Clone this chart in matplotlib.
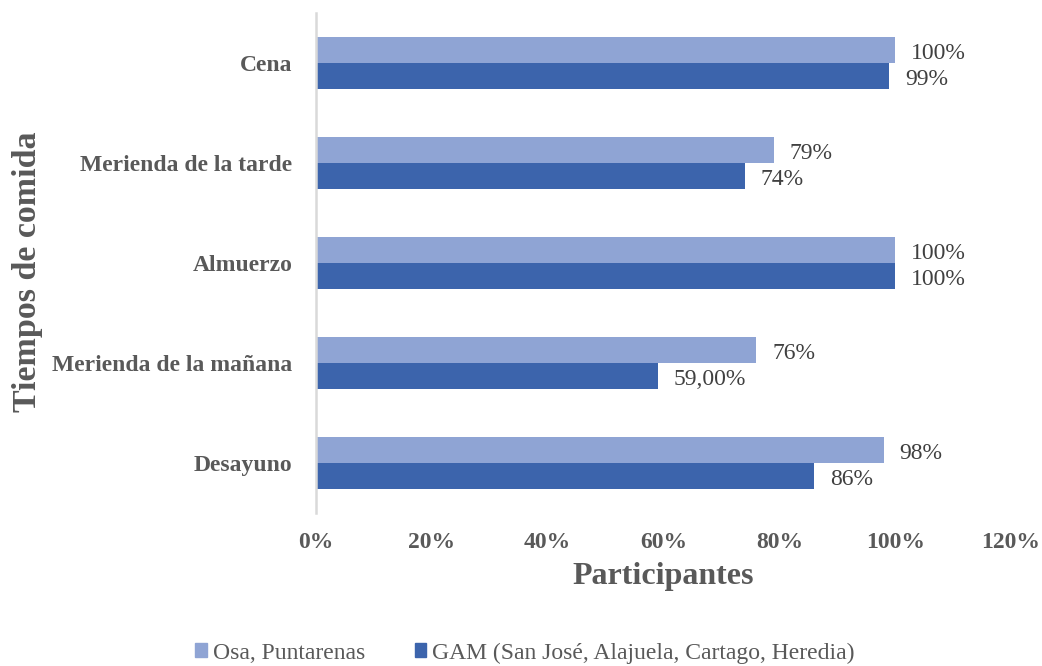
import matplotlib.pyplot as plt
from matplotlib.patches import Patch

plt.rcParams['font.family'] = ['Liberation Serif', 'DejaVu Serif']

categories = ["Desayuno", "Merienda de la mañana", "Almuerzo",
              "Merienda de la tarde", "Cena"]
osa = [98, 76, 100, 79, 100]
gam = [86, 59, 100, 74, 99]
osa_labels = ["98%", "76%", "100%", "79%", "100%"]
gam_labels = ["86%", "59,00%", "100%", "74%", "99%"]
xticks = [0, 20, 40, 60, 80, 100, 120]
xtick_labels = ["0%", "20%", "40%", "60%", "80%", "100%", "120%"]

light = "#8FA4D4"
dark = "#3C64AC"
text_gray = "#595959"
label_gray = "#404040"

fig = plt.figure(figsize=(10.42, 6.66), dpi=100)
ax = fig.add_axes([316 / 1042, (666 - 513) / 666, (1011 - 316) / 1042, 500 / 666])

h = 0.26
ypos = list(range(len(categories)))
ax.barh([y + h / 2 for y in ypos], osa, height=h, color=light)
ax.barh([y - h / 2 for y in ypos], gam, height=h, color=dark)

for y, v, s in zip(ypos, osa, osa_labels):
    ax.annotate(s, (v, y + h / 2), xytext=(11.5, -2.5), textcoords="offset points",
                ha="left", va="center", fontsize=17, color=label_gray)
for y, v, s in zip(ypos, gam, gam_labels):
    ax.annotate(s, (v, y - h / 2), xytext=(11.5, -2.5), textcoords="offset points",
                ha="left", va="center", fontsize=17, color=label_gray)

ax.set_xlim(0, 120)
ax.set_ylim(-0.5, len(categories) - 0.5)
ax.set_xticks(xticks)
ax.set_xticklabels(xtick_labels, fontsize=17, fontweight="bold", color=text_gray)
ax.set_yticks(ypos)
ax.set_yticklabels(categories, fontsize=17, fontweight="bold", color=text_gray)
ax.tick_params(axis="both", length=0)
ax.tick_params(axis="x", pad=14)
ax.tick_params(axis="y", pad=17)

for side in ["top", "right", "bottom"]:
    ax.spines[side].set_visible(False)
ax.spines["left"].set_color("#D9D9D9")
ax.spines["left"].set_linewidth(1.8)

ax.set_xlabel("Participantes", fontsize=23, fontweight="bold", color=text_gray, labelpad=6)
fig.text(28 / 1042, 1 - 272 / 666, "Tiempos de comida", rotation=90, fontsize=24.5,
         fontweight="bold", color=text_gray, ha="center", va="center")

handles = [Patch(color=light, label="Osa, Puntarenas"),
           Patch(color=dark, label="GAM (San José, Alajuela, Cartago, Heredia)")]
leg = fig.legend(handles=handles, loc="center", bbox_to_anchor=(525 / 1042, 1 - 653 / 666),
                 ncol=2, frameon=False, fontsize=17, handlelength=0.5, handleheight=0.5,
                 handletextpad=0.25, columnspacing=2.1, borderpad=0, borderaxespad=0)
for t in leg.get_texts():
    t.set_color(text_gray)

fig.savefig("out.png", dpi=100)
